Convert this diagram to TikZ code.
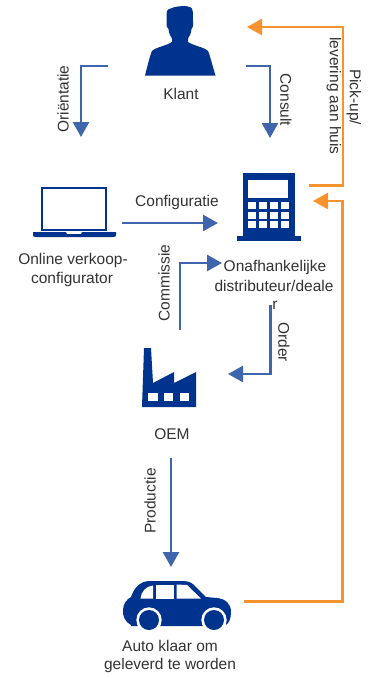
\documentclass[tikz,border=0pt]{standalone}
\usepackage{fontspec}
\setmainfont{Liberation Sans}
\usetikzlibrary{arrows.meta}
\definecolor{navy}{HTML}{00338D}
\definecolor{flow}{HTML}{3F66AC}
\definecolor{pick}{HTML}{F7932F}
\definecolor{ink}{HTML}{333333}
\tikzset{
  lbl/.style={text=ink,font=\fontsize{15.5}{16}\selectfont,inner sep=0pt,anchor=center},
  flowline/.style={draw=flow,line width=2.6pt,-{Triangle[length=15pt,width=16pt]}},
  pickline/.style={draw=pick,line width=2.6pt,-{Triangle[length=15pt,width=16pt]}},
  icon/.style={fill=navy,draw=none},
  hole/.style={fill=white,draw=none}
}
\begin{document}
\begin{tikzpicture}[x=1pt,y=-1pt]
\useasboundingbox[fill=white] (0,0) rectangle (369,678);
% --- endpoints
\coordinate (oS) at (108,66); \coordinate (oC) at (81,66); \coordinate (oE) at (81,137);
\coordinate (cS) at (246,66); \coordinate (cC) at (270,66); \coordinate (cE) at (270,138);
\coordinate (pS) at (309,185.5); \coordinate (pA) at (343,185.5); \coordinate (pB) at (343,27); \coordinate (pE) at (247,27);
\coordinate (qS) at (244,601.5); \coordinate (qA) at (342.5,601.5); \coordinate (qB) at (342.5,201); \coordinate (qE) at (313,201);
\coordinate (fS) at (122,223); \coordinate (fE) at (218,223);
\coordinate (kS) at (180,330); \coordinate (kA) at (180,263); \coordinate (kE) at (222,263);
\coordinate (rS) at (270.5,305); \coordinate (rA) at (270.5,374); \coordinate (rE) at (228,374);
\coordinate (uS) at (171,458); \coordinate (uE) at (171,567);
% --- person
\path[icon] (166.5,23) -- (166.5,14) .. controls (166.5,10) and (169,8) .. (172,8)
  .. controls (178,5.5) and (188,5.5) .. (191,7.5) .. controls (193,9) and (193,12) .. (193,23)
  .. controls (193.5,25) and (193,28) .. (191.5,29) .. controls (191,33) and (190,36) .. (188,38.5)
  -- (188,42) .. controls (194,46) and (204,47) .. (208,51)
  .. controls (210,55) and (213,68) .. (215.5,75.5) -- (145,75.5)
  .. controls (147,68) and (150,55) .. (152,51)
  .. controls (156,47) and (166,46) .. (172,42) -- (172,38.5)
  .. controls (170,36) and (169,33) .. (168.5,29) .. controls (167,28) and (166,25) .. (166.5,23) -- cycle;
% --- laptop
\draw[navy,line width=2pt] (42,188) rectangle (106,230);
\path[icon] (33,232) -- (66,232) -- (67,234) -- (81,234) -- (82,232) -- (116,232)
  -- (116,235) .. controls (116,236.5) and (115,237) .. (113,237) -- (36,237)
  .. controls (34,237) and (33,236.5) .. (33,235) -- cycle;
% --- calculator
\path[icon] (243,173) rectangle (295,236);
\path[icon] (237,236) rectangle (301,240.5);
\path[hole] (248,180) rectangle (288,198);
\foreach \xx in {248,259,270,281}
  \foreach \yy/\yz in {202/209,212/219,221/228}
    \path[hole] (\xx,\yy) rectangle (\xx+8,\yz);
% --- factory
\path[icon] (142,407) -- (144,348) -- (151,348) -- (153,383) -- (174,372) -- (174,383) -- (196,372) -- (196,407) -- cycle;
\foreach \xx/\xz in {148/157.5,164/173,179.5/189}
  \path[hole] (\xx,393) rectangle (\xz,401);
% --- car
\path[icon] (131,625) .. controls (125,622) and (122.5,616) .. (123,610)
  .. controls (123,604) and (127,599) .. (131,597)
  .. controls (134,588) and (140,581) .. (150,581)
  -- (183,581) .. controls (189,581) and (192,583) .. (195,586)
  -- (206,597) -- (217,598) .. controls (226,599) and (231,604) .. (231,612)
  .. controls (231,619) and (229,624) .. (224,626) -- (131,626) -- cycle;
\path[hole] (140.5,598.5) .. controls (141,592) and (146,586) .. (153,585.5) -- (153,598.5) -- cycle;
\path[hole] (155.5,584.5) rectangle (173.5,598.5);
\path[hole] (176.5,584.5) -- (187,585) -- (201,598.5) -- (176.5,598.5) -- cycle;
\foreach \cx in {149,214}{
  \path[hole] (\cx,620) circle (12.7);
  \path[icon] (\cx,620) circle (10);
}
% --- connectors
\draw[flowline] (oS) -- (oC) -- (oE);
\draw[flowline] (cS) -- (cC) -- (cE);
\draw[pickline] (pS) -- (pA) -- (pB) -- (pE);
\draw[pickline] (qS) -- (qA) -- (qB) -- (qE);
\draw[flowline] (fS) -- (fE);
\draw[flowline] (kS) -- (kA) -- (kE);
\draw[flowline] (rS) -- (rA) -- (rE);
\draw[flowline] (uS) -- (uE);
% --- labels
\node[lbl] (klant) at (181,94) {Klant};
\node[lbl,rotate=90] (orient) at (63,99) {Oriëntatie};
\node[lbl,rotate=-90] (consult) at (286,100) {Consult};
\node[lbl,rotate=-90] (pick1) at (354,97) {Pick-up/};
\node[lbl,rotate=-90] (pick2) at (334,96) {levering aan huis};
\node[lbl] (config) at (177,202) {Configuratie};
\node[lbl] (online1) at (73,260) {Online verkoop-};
\node[lbl] (online2) at (72,279) {configurator};
\node[lbl,rotate=90] (comm) at (164,283) {Commissie};
\node[lbl] (dist1) at (275,267) {Onafhankelijke};
\node[lbl] (dist2) at (274,286) {distributeur/deale};
\node[lbl] (dist3) at (275,305) {r};
\node[lbl,rotate=-90] (order) at (284,342) {Order};
\node[lbl] (oem) at (172,434) {OEM};
\node[lbl,rotate=90] (prod) at (150,501) {Productie};
\node[lbl] (auto1) at (170,646) {Auto klaar om};
\node[lbl] (auto2) at (170,665) {geleverd te worden};
\end{tikzpicture}
\end{document}
